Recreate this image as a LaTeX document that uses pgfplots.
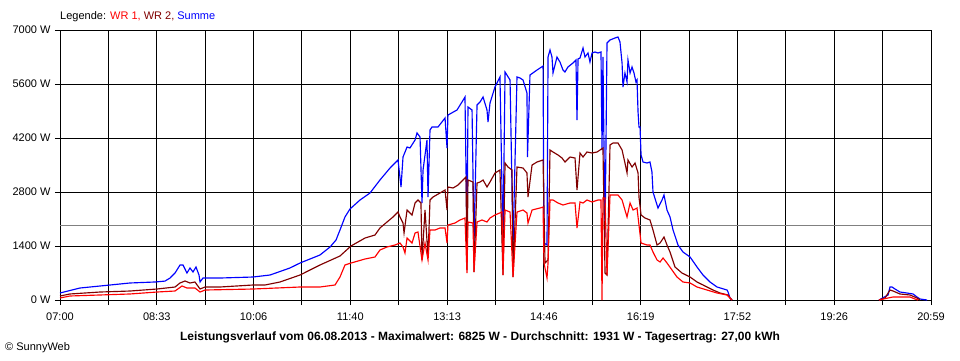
\documentclass[border=0pt]{standalone}
\usepackage{pgfplots}
\pgfplotsset{compat=1.18}
\usepackage{fontspec}
\setmainfont{Liberation Sans}
\definecolor{wrone}{RGB}{255,0,0}
\definecolor{wrtwo}{RGB}{128,0,0}
\definecolor{summe}{RGB}{0,0,255}
\definecolor{avg}{RGB}{128,128,128}
\begin{document}
\begin{tikzpicture}[x=1pt,y=1pt]
\useasboundingbox (0,0) rectangle (960,360);
\begin{axis}[
  at={(60pt,60pt)}, anchor=south west,
  scale only axis, width=871pt, height=270pt,
  xmin=0, xmax=839, ymin=0, ymax=7000,
  axis line style={black, line width=1pt},
  xtick={0,46.611,93.222,139.833,186.444,233.056,279.667,326.278,372.889,419.5,466.111,512.722,559.333,605.944,652.556,699.167,745.778,792.389,839},
  xticklabels={07:00,,08:33,,10:06,,11:40,,13:13,,14:46,,16:19,,17:52,,19:26,,20:59},
  ytick={0,1400,2800,4200,5600,7000},
  yticklabels={0 W,1400 W,2800 W,4200 W,5600 W,7000 W},
  xtick pos=bottom, ytick pos=left, tick align=outside,
  major tick length=5pt,
  tick style={black, line width=1pt},
  grid=major, major grid style={black, line width=1pt},
  ticklabel style={font=\fontsize{11}{13}\selectfont},
  xticklabel style={yshift=-4pt},
  yticklabel style={xshift=-1pt},
  /pgf/number format/assume math mode=true,
  unbounded coords=jump,
  clip=false,
]
\addplot[avg, line width=1.2pt] coordinates {(0,1931) (839,1931)};
% Summe
\addplot[summe, line width=1.15pt] coordinates {
(0,181) (19.3,311) (48.2,389) (67.4,441) (91.5,467) (101.1,490) (106,570) (110.8,700) (115.6,907) (118.5,907) (122.3,700) (125.2,830) (128.1,726) (131,856) (133.9,648) (134.9,467) (137.7,570) (154.1,570) (185.9,596) (202.3,648) (221.5,830) (231.2,959) (250.4,1167) (260.1,1374) (265.9,1556) (269.7,1815) (274.5,2152) (279.3,2359) (289,2593) (298.6,2774) (308.2,3111) (317.9,3422) (325.6,3630) (328.5,2930) (330.4,3707) (334.3,3967) (337.1,3941) (342,4148) (343.9,4330) (346.8,4226) (348.7,2515) (349.7,3370) (353.5,4148) (354.5,2670) (356.4,4407) (358.3,4485) (364.1,4485) (370.9,4719) (372.8,3941) (373.7,4796) (382.4,4926) (387.2,5133) (390.1,5263) (392,1633) (393,5004) (396.9,4926) (398.8,1478) (401.7,5056) (404.6,5133) (407.5,5263) (411.3,4926) (412.3,4615) (414.2,5107) (419,5522) (423.8,5782) (426.7,1478) (428.7,5911) (433.5,5704) (436.4,1426) (440.2,5782) (443.1,5756) (446,5704) (449.8,5367) (450.3,3707) (452.7,5833) (459.5,5963) (462.4,6015) (465.3,6067) (466.2,1478) (469.1,1426) (470.1,6300) (472,6482) (473.9,6300) (474.9,5885) (478.7,6300) (481.6,6170) (484.5,5963) (486.4,5911) (489.3,6041) (494.1,6144) (497,6222) (498,4667) (499,6250) (500.9,6274) (503.8,6533) (505.7,6300) (508.6,6404) (510.5,6170) (512.5,6404) (515.3,6430) (518.2,6404) (521.1,6430) (522.1,3889) (523,6300) (525,1633) (526.9,6663) (529.8,6741) (534.6,6793) (537.5,6819) (539.4,6689) (541.4,6144) (542.3,5522) (544.2,5885) (546.2,5652) (547.1,6222) (549.1,5885) (551,6041) (552.9,5885) (554.8,5652) (555.8,5704) (556.8,4874) (557.7,4485) (558.7,4485) (559.7,3759) (561.6,3578) (565.4,3552) (568.3,3578) (570.2,3319) (571.2,2800) (575.1,2463) (576,2385) (579.9,2593) (581.8,2722) (584.7,2333) (587.6,2152) (590.5,1815) (595.3,1426) (600.1,1244) (606.9,1115) (613.6,856) (619.4,648) (626.1,467) (632.9,337) (642.5,259) (643.5,207) (645.4,52) (647.3,0)
(700,nan)
(788.9,0) (797.6,130) (799.5,337) (801.4,337) (804.3,285) (809.1,207) (815.9,181) (821.7,156) (825.5,78) (828.4,26) (835.2,0)
};
% WR 2
\addplot[wrtwo, line width=1.15pt] coordinates {
(0,104) (9.6,156) (38.5,207) (67.4,233) (93.4,285) (110.8,337) (115.6,441) (120.4,493) (125.2,441) (130,467) (134.9,285) (139.7,337) (154.1,337) (185.9,389) (197.5,389) (211.9,467) (231.2,648) (250.4,907) (269.7,1141) (280.3,1400) (293.8,1607) (303.4,1685) (308.2,1867) (315,2022) (320.8,2152) (325.6,2281) (327.5,2152) (330.4,1996) (331.4,1737) (334.3,2333) (339.1,2204) (342,2515) (344.8,2593) (347.7,2515) (348.7,1037) (351.6,2333) (354.5,1115) (356.4,2593) (359.3,2670) (366,2774) (370.9,2852) (372.8,2333) (373.7,2930) (378.6,2904) (383.4,2981) (388.2,3111) (391.1,3189) (392,778) (393,3111) (397.8,3059) (398.8,726) (401.7,3033) (404.6,3059) (407.5,3111) (411.3,2930) (414.2,3059) (419,3293) (423.8,3370) (426.7,648) (428.7,3552) (431.5,3448) (435.4,3370) (436.4,596) (440.2,3448) (446,3422) (449.8,3293) (450.8,2670) (454.7,3500) (459.5,3578) (465.3,3630) (467.2,959) (470.1,1037) (472,3889) (474.9,3837) (479.7,3759) (483.6,3681) (486.4,3578) (491.3,3707) (496.1,3681) (498,2852) (500.9,3811) (503.8,3707) (507.6,3837) (512.5,3811) (517.3,3837) (520.2,3889) (523,3941) (525,700) (526.9,648) (529.8,4019) (532.7,4070) (537.5,4070) (541.4,3889) (544.2,3552) (546.2,3293) (547.1,3630) (551,3448) (553.9,3552) (556.8,3293) (557.7,2670) (559.7,2204) (563.5,2126) (568.3,2074) (571.2,1815) (575.1,1426) (578,1478) (581.8,1633) (584.7,1426) (587.6,1244) (592.4,856) (599.1,700) (606.9,596) (613.6,467) (619.4,389) (629,259) (635.8,181) (643.5,130) (645.4,52) (647.3,0)
(700,nan)
(788.9,0) (794.7,52) (799.5,259) (802.4,233) (809.1,156) (818.8,130) (825.5,52) (828.4,0)
};
% WR 1
\addplot[wrone, line width=1.15pt] coordinates {
(0,52) (9.6,104) (38.5,130) (67.4,156) (93.4,207) (110.8,233) (117.5,363) (122.3,311) (130,311) (134.9,207) (139.7,259) (185.9,285) (231.2,337) (250.4,337) (264.9,389) (269.7,596) (274.5,907) (280.3,959) (293.8,1063) (303.4,1115) (308.2,1296) (315,1374) (322.7,1426) (327.5,1478) (330.4,1374) (332.3,1219) (334.3,1607) (339.1,1478) (342,1737) (344.8,1763) (348.7,1037) (351.6,1478) (354.5,1037) (356.4,1815) (361.2,1815) (366,1867) (370.9,1867) (372.8,1478) (373.7,1944) (380.5,1996) (385.3,2074) (390.1,2126) (392,700) (393,2022) (397.8,1996) (398.8,726) (401.7,2022) (406.5,2074) (411.3,2022) (414.2,2126) (419,2204) (425.8,2281) (426.7,648) (428.7,2333) (433.5,2281) (436.4,596) (440.2,2281) (446,2333) (449.8,2256) (450.8,1996) (454.7,2333) (462.4,2385) (465.3,2411) (466.2,959) (469.1,570) (470.1,959) (472,2593) (474.9,2593) (479.7,2515) (484.5,2463) (491.3,2515) (496.1,2515) (498,1867) (500.9,2541) (503.8,2515) (507.6,2593) (512.5,2541) (518.2,2593) (521.1,2593) (522.1,0) (523,2644) (525,2644) (526.9,648) (529.8,2722) (537.5,2722) (541.4,2593) (544.2,2333) (546.2,2152) (549.1,2515) (552,2333) (555.8,2385) (557.7,1944) (559.7,1478) (565.4,1426) (568.3,1426) (571.2,1244) (575.1,1037) (578,985) (580.9,1089) (584.7,959) (589.5,778) (594.3,596) (600.1,467) (606.9,441) (613.6,337) (623.2,259) (632.9,181) (642.5,130) (645.4,52) (647.3,0)
(700,nan)
(788.9,0) (797.6,52) (802.4,78) (818.8,78) (823.6,26) (826.5,0)
};
\end{axis}
\node[anchor=west, inner sep=0pt, font=\fontsize{11}{13}\selectfont] at (60,343) {Legende: \textcolor{wrone}{WR 1,} \textcolor{wrtwo}{WR 2,} \textcolor{summe}{Summe}};
\node[anchor=center, inner sep=0pt, font=\fontsize{12}{14}\selectfont\bfseries] at (480,23) {Leistungsverlauf vom 06.08.2013 - Maximalwert: 6825 W - Durchschnitt: 1931 W - Tagesertrag: 27,00 kWh};
\node[anchor=west, inner sep=0pt, font=\fontsize{11}{13}\selectfont] at (5,12) {© SunnyWeb};
\end{tikzpicture}
\end{document}
